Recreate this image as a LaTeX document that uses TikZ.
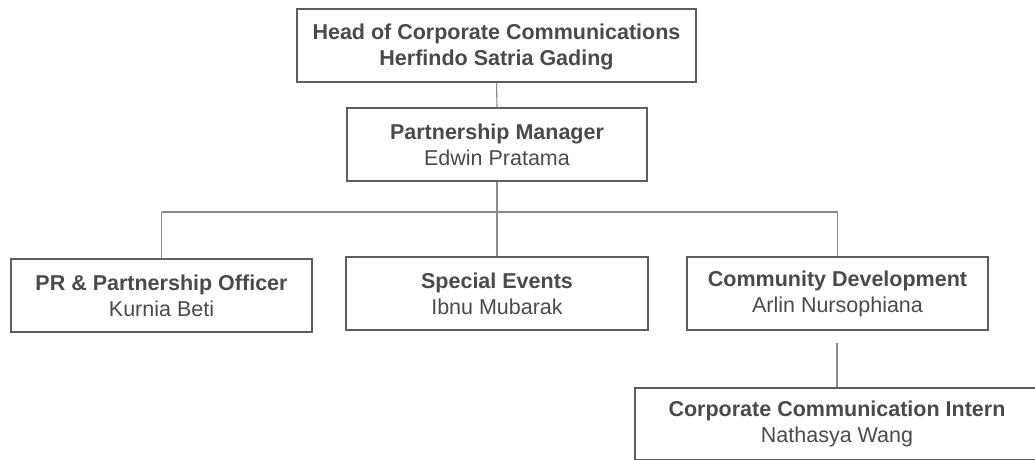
\documentclass[tikz,border=0pt]{standalone}
\usepackage{fontspec}
\setmainfont{Liberation Sans}
\usetikzlibrary{positioning}
\definecolor{txt}{HTML}{4A4A4A}
\definecolor{boxline}{HTML}{5E5E5E}
\definecolor{conn}{HTML}{8A8A8A}
\tikzset{
  orgbox/.style={draw=boxline, line width=1.3pt, rectangle, align=center,
    text=txt, font=\fontsize{21.5}{26}\selectfont, inner sep=0pt,
    minimum height=73pt},
  link/.style={draw=conn, line width=1.1pt}
}
\begin{document}
\begin{tikzpicture}[x=1pt,y=-1pt]
\useasboundingbox (0,0) rectangle (1035,459);
\clip (0,0) rectangle (1035,459);
\node[orgbox, minimum width=399pt] (head) at (496.5,45.5)
  {\rule{0pt}{19pt}\textbf{Head of Corporate Communications}\\\textbf{Herfindo Satria Gading}};
\node[orgbox, minimum width=300pt] (pm) at (497,144.5)
  {\textbf{Partnership Manager}\\Edwin Pratama};
\node[orgbox, minimum width=301pt] (pr) at (161.5,295.5)
  {\textbf{PR \& Partnership Officer}\\Kurnia Beti};
\node[orgbox, minimum width=302pt] (se) at (497,293.5)
  {\textbf{Special Events}\\Ibnu Mubarak};
\node[orgbox, minimum width=301pt] (cd) at (837.5,293.5)
  {\textbf{Community Development}\\Arlin Nursophiana};
\node[orgbox, minimum width=404pt, minimum height=72pt] (ci) at (837,424)
  {\textbf{Corporate Communication Intern}\\Nathasya Wang};
\coordinate (bus) at (497,212);
\coordinate (busL) at (161.5,212);
\coordinate (busR) at (837.5,212);
\coordinate (cdlow) at (837,343);
\draw[link] (head.south) -- (pm.north);
\draw[link] (pm.south) -- (bus);
\draw[link] (busL) -- (busR);
\draw[link] (busL) -- (pr.north);
\draw[link] (bus) -- (se.north);
\draw[link] (busR) -- (cd.north);
\draw[link] (cdlow) -- (ci.north);
\end{tikzpicture}
\end{document}
